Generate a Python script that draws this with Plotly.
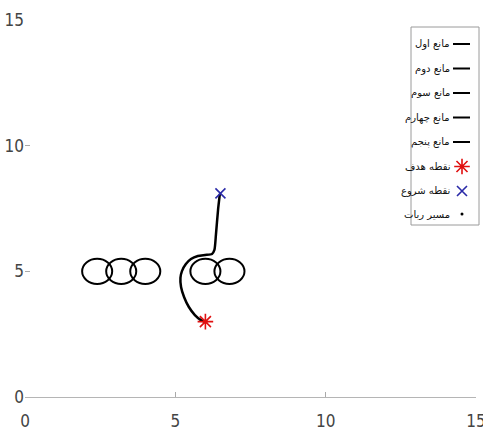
import plotly.graph_objects as go

# ---- data ----
obstacle_names = ["مانع اول", "مانع دوم", "مانع سوم", "مانع چهارم", "مانع پنجم"]
obstacle_x = [2.4, 3.2, 4.0, 6.0, 6.8]
obstacle_y = [5.0, 5.0, 5.0, 5.0, 5.0]
obstacle_r = [0.5, 0.5, 0.5, 0.5, 0.5]

goal_name = "نقطه هدف"
goal_x = [6.0]
goal_y = [3.0]

start_name = "نقطه شروع"
start_x = [6.5]
start_y = [8.1]

path_name = "مسیر ربات"
path_x = [6.48, 6.42, 6.35, 6.30, 6.22, 5.99, 5.75, 5.52, 5.35, 5.22, 5.17, 5.19, 5.29, 5.45, 5.65, 5.85, 6.0]
path_y = [8.08, 7.44, 6.45, 5.85, 5.69, 5.65, 5.61, 5.49, 5.29, 5.01, 4.74, 4.38, 3.98, 3.58, 3.26, 3.06, 2.98]

x_ticks = [0, 5, 10, 15]
y_ticks = [0, 5, 10, 15]

legend_labels = obstacle_names + [goal_name, start_name, path_name]

# ---- figure ----
W, H = 483, 435
ML, MR, MT, MB = 25, 7, 20, 38
PW, PH = W - ML - MR, H - MT - MB

fig = go.Figure()

shapes = []
for cx, cy, r in zip(obstacle_x, obstacle_y, obstacle_r):
    shapes.append(dict(type="circle", xref="x", yref="y",
                       x0=cx - r, x1=cx + r, y0=cy - r, y1=cy + r,
                       line=dict(color="black", width=2)))

fig.add_trace(go.Scatter(x=path_x, y=path_y, mode="lines",
                         line=dict(color="black", width=2.5, shape="spline", smoothing=0.6),
                         showlegend=False, hoverinfo="skip"))
fig.add_trace(go.Scatter(x=goal_x, y=goal_y, mode="markers",
                         marker=dict(symbol="asterisk", size=13, line=dict(color="#e01010", width=1.6)),
                         showlegend=False))
fig.add_trace(go.Scatter(x=start_x, y=start_y, mode="markers",
                         marker=dict(symbol="x-thin", size=10, line=dict(color="#2a2aa8", width=1.6)),
                         showlegend=False))

# ---- custom legend (text left, sample right) in pixel-like overlay axes ----
def py2y(py):
    return 397 - py

def px2x(px):
    return px - ML

row_py = [44, 68.5, 93, 117.5, 142, 166.5, 191, 214]
annotations = []
for lab, py in zip(legend_labels, row_py):
    annotations.append(dict(x=px2x(452), y=py2y(py), xref="x2", yref="y2", text=lab,
                            showarrow=False, xanchor="right", yanchor="middle",
                            font=dict(family="DejaVu Serif, DejaVu Sans", size=10, color="#111")))
# obstacle line samples
for py in row_py[:5]:
    fig.add_trace(go.Scatter(x=[px2x(453), px2x(470)], y=[py2y(py), py2y(py)], xaxis="x2", yaxis="y2",
                             mode="lines", line=dict(color="black", width=2),
                             showlegend=False, hoverinfo="skip"))
fig.add_trace(go.Scatter(x=[px2x(462)], y=[py2y(row_py[5])], xaxis="x2", yaxis="y2", mode="markers",
                         marker=dict(symbol="asterisk", size=13, line=dict(color="#e01010", width=1.6)),
                         showlegend=False, hoverinfo="skip"))
fig.add_trace(go.Scatter(x=[px2x(462)], y=[py2y(row_py[6])], xaxis="x2", yaxis="y2", mode="markers",
                         marker=dict(symbol="x-thin", size=10, line=dict(color="#2a2aa8", width=1.6)),
                         showlegend=False, hoverinfo="skip"))
fig.add_trace(go.Scatter(x=[px2x(462)], y=[py2y(row_py[7])], xaxis="x2", yaxis="y2", mode="markers",
                         marker=dict(symbol="circle", size=3, color="black"),
                         showlegend=False, hoverinfo="skip"))

box_top, box_bot, box_l, box_r = 27, 225, 411, 479
shapes.append(dict(type="rect", xref="paper", yref="paper",
                   x0=(box_l - ML) / PW, x1=(box_r - ML) / PW,
                   y0=(397 - box_bot) / PH, y1=(397 - box_top) / PH,
                   line=dict(color="#9a9a9a", width=1), fillcolor="rgba(255,255,255,0)", layer="below"))

tickfont = dict(family="DejaVu Sans Condensed, Liberation Sans Narrow, Arial Narrow, sans-serif",
                size=17, color="#444")
fig.update_layout(
    width=W, height=H,
    margin=dict(l=ML, r=MR, t=MT, b=MB, autoexpand=False),
    paper_bgcolor="white", plot_bgcolor="white",
    showlegend=False,
    shapes=shapes, annotations=annotations,
    xaxis=dict(range=[0, 15], tickvals=x_ticks, ticks="inside", ticklen=5, tickcolor="#aaa",
               showline=True, linecolor="#b5b5b5", linewidth=1, showgrid=False, zeroline=False,
               tickfont=tickfont, fixedrange=True, automargin=False, ticklabeloverflow="allow",
               ticklabelstandoff=9),
    yaxis=dict(range=[0, 15], tickvals=y_ticks, ticks="inside", ticklen=5, tickcolor="#aaa",
               showline=False, showgrid=False, zeroline=False, tickfont=tickfont, fixedrange=True,
               automargin=False, ticklabeloverflow="allow", ticklabelstandoff=0),
    xaxis2=dict(overlaying="x", range=[0, PW], visible=False, fixedrange=True, automargin=False),
    yaxis2=dict(overlaying="y", range=[0, PH], visible=False, fixedrange=True, automargin=False),
)

fig.write_html("out.html", config={"displayModeBar": False},
               post_script="document.body.style.margin='0';document.body.style.overflow='hidden';")
